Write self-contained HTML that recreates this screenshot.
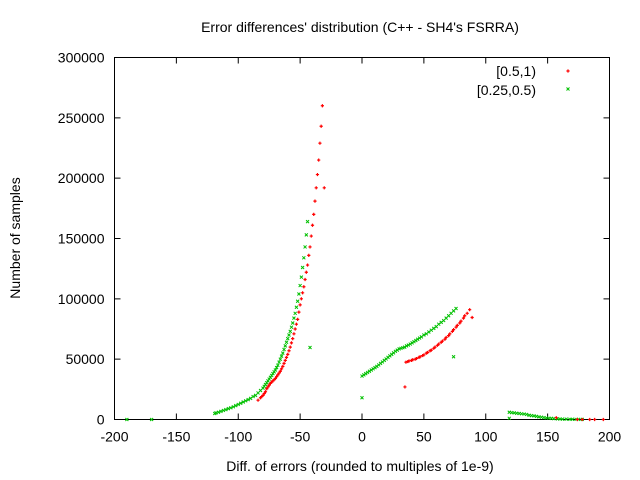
<!DOCTYPE html>
<html><head><meta charset="utf-8"><style>
body{margin:0;background:#fff}
svg{display:block;font-family:"Liberation Sans",sans-serif}
</style></head><body>
<svg id="chart" width="640" height="480" xmlns="http://www.w3.org/2000/svg">
<rect width="640" height="480" fill="#fff"/>
<text x="360" y="32" font-size="14" text-anchor="middle">Error differences' distribution (C++ - SH4's FSRRA)</text>
<text x="360" y="471" font-size="14" text-anchor="middle">Diff. of errors (rounded to multiples of 1e-9)</text>
<text x="20" y="238" font-size="14" text-anchor="middle" transform="rotate(-90 20 238)">Number of samples</text>
<g id="axes"></g>
<g id="marks"></g>
<g>
<text x="536" y="76" font-size="14" text-anchor="end">[0.5,1)</text>
<text x="536" y="95" font-size="14" text-anchor="end">[0.25,0.5)</text>
</g>
</svg>
<script>
const xTicks=[-200,-150,-100,-50,0,50,100,150,200];
const yTicks=[0,50000,100000,150000,200000,250000,300000];
const redX=[-32,-33,-34,-35,-36,-37,-38,-39,-40,-41,-42,-43,-44,-45,-46,-47,-48,-49,-50,-51,-52,-53,-54,-55,-56,-57,-58,-59,-60,-61,-62,-63,-64,-65,-66,-67,-68,-69,-70,-71,-72,-73,-74,-75,-76,-77,-78,-79,-80,-81,-82,-84,-30.5,
 35.5,37,38,40,41,43,44,46,47,49,50,52,53,55,56,58,59,61,62,64,65,67,68,70,71,73,74,76,77,79,80,82,83,85,87,89,34.7,
 157,174,178,184,188,195];
const redY=[260000,243000,229000,215000,203000,192000,181000,170000,161000,152000,143000,136000,128000,122000,116000,110000,105000,100000,95000,89000,83000,79000,75000,71000,67000,63500,60000,57000,54000,51500,49000,46500,44000,42000,40000,38500,37000,35500,34000,33000,32000,31000,30000,28500,27000,25500,23000,21500,20000,19000,18000,16000,192000,
 47500,48000,48500,49000,49500,50000,50500,51500,52000,53000,53500,55000,55500,57000,57500,59000,60000,61500,62500,64000,65000,66500,68000,69500,71000,73000,74500,76500,78000,80000,81500,84000,86000,88000,91000,84500,27000,
 1500,0,0,0,0,0];
const greenX=[-44,-45,-46,-47,-48,-49,-50,-51,-52,-53,-54,-55,-56,-57,-58,-59,-60,-61,-62,-63,-64,-65,-66,-67,-68,-69,-70,-71,-72,-73,-74,-75,-76,-77,-78,-79,-80,-82,-84,-86,-88,-90,-92,-94,-96,-98,-100,-102,-104,-106,-108,-110,-112,-114,-116,-118,-119,-42,-190,-170,
 0,1.5,3,4.5,6,7.5,9,10.5,12,13.5,15,16.5,18,19.5,21,22.5,24,25.5,27,28.5,30,31.5,33,34.5,36,37.5,39,40.5,42,43.5,45,46.5,48,50,52,54,56,58,60,62,64,66,68,70,72,74,76,0,74,
 119,121,123,125,127,129,131,133,135,137,139,141,143,145,147,149,151,153,155,158,160,162,165,168,170,173,175,178,119];
const greenY=[164000,153000,143000,134000,126000,118000,111000,104000,98000,93000,88000,84000,80000,76500,73000,70000,67000,64000,61000,58000,55000,52500,50000,47500,45000,43000,41000,39500,38000,36500,35000,33500,32000,30500,29000,27500,26000,24000,22000,20000,19000,17500,16500,15500,14500,13500,12500,11500,10500,9700,9000,8200,7500,6700,6000,5500,5000,59700,0,0,
 36000,37000,38000,39000,40000,41000,42000,43000,44000,45200,46500,47700,49000,50200,51500,52700,54000,55200,56500,57500,58500,59000,59500,60000,61000,61700,62500,63500,64500,65500,66500,67500,68500,70000,71000,72500,74000,75500,77000,79000,80500,82000,84000,86000,88000,90000,92000,18000,52000,
 6000,5700,5500,5200,5000,4700,4500,4200,3500,3200,3000,2600,2200,1900,1600,1300,1100,900,700,500,400,300,300,200,200,150,100,100,1000];
const L=114.5,R=609.5,T=57.5,B=419.5;
const xs=v=>L+(v+200)/400*(R-L);
const ys=v=>B-v/300000*(B-T);
const NS="http://www.w3.org/2000/svg";
const axes=document.getElementById('axes'),marks=document.getElementById('marks');
function mk(tag,attrs,parent){const e=document.createElementNS(NS,tag);for(const k in attrs)e.setAttribute(k,attrs[k]);parent.appendChild(e);return e;}
const frame=mk('rect',{x:L,y:T,width:R-L,height:B-T,fill:'none',stroke:'#000','stroke-width':1},axes);


xTicks.forEach(v=>{const x=xs(v);
 const t=mk('path',{d:`M${x} ${B}v-6M${x} ${T}v6`,stroke:'#000'},axes);
 
 
 const l=mk('text',{x:x,y:B+22,'font-size':14,'text-anchor':'middle'},axes);l.textContent=v;
 
 });
yTicks.forEach(v=>{const y=ys(v);
 const t=mk('path',{d:`M${L} ${y}h6M${R} ${y}h-6`,stroke:'#000'},axes);
 
 
 const l=mk('text',{x:L-10,y:y+5,'font-size':14,'text-anchor':'end'},axes);l.textContent=v;
 
 });
function plus(x,y,c,name){const p=mk('path',{d:`M${x-1.6} ${y}h3.2M${x} ${y-1.6}v3.2`,stroke:c,'stroke-width':1.2},marks);
 
 }
function cross(x,y,c,name){const p=mk('path',{d:`M${x-1.5} ${y-1.5}l3 3M${x-1.5} ${y+1.5}l3 -3`,stroke:c,'stroke-width':1},marks);
 
 }
greenX.forEach((v,i)=>cross(xs(v),ys(greenY[i]),'#00c000','point-0.25-0.5'));
redX.forEach((v,i)=>plus(xs(v),ys(redY[i]),'#ff0000','point-0.5-1'));
plus(568,71,'#ff0000','legend-marker-0.5-1');
cross(568,89,'#00c000','legend-marker-0.25-0.5');
</script>
</body></html>
